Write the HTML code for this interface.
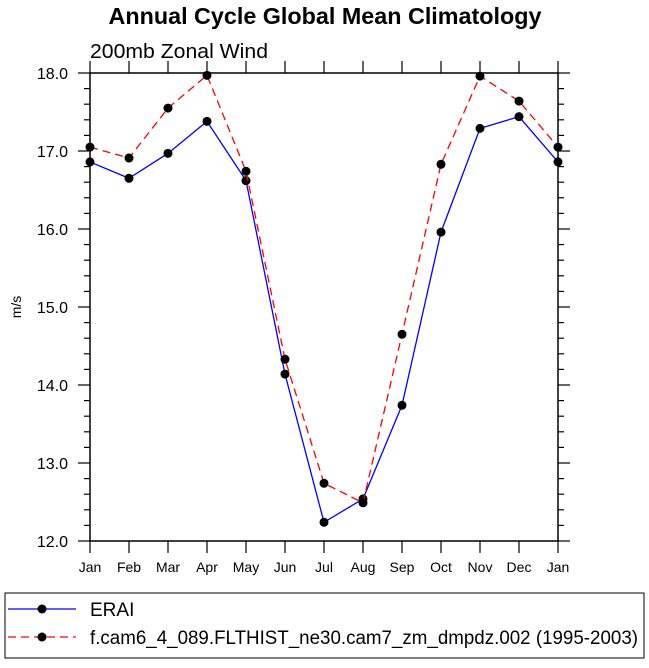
<!DOCTYPE html>
<html><head><meta charset="utf-8"><style>
body{margin:0;background:#fff;}
svg text{font-family:"Liberation Sans",sans-serif;}
</style></head><body>
<svg id="chart" width="649" height="663" xmlns="http://www.w3.org/2000/svg">
<text x="325" y="24" text-anchor="middle" font-size="23" font-weight="bold" textLength="433" lengthAdjust="spacingAndGlyphs">Annual Cycle Global Mean Climatology</text>
<text x="90" y="58" font-size="20" textLength="178" lengthAdjust="spacingAndGlyphs">200mb Zonal Wind</text>
<text transform="translate(21,307) rotate(-90)" text-anchor="middle" font-size="14">m/s</text>
<g id="axes"></g>
<g id="series"></g>
<rect x="5" y="593" width="639" height="65" fill="none" stroke="#000" stroke-width="1"/>
<line x1="8" y1="609" x2="76" y2="609" stroke="#0000ff" stroke-width="1.3"/>
<circle cx="42" cy="609" r="4.5" fill="#000"/>
<text x="90" y="616" font-size="19">ERAI</text>
<line x1="8" y1="637" x2="76" y2="637" stroke="#ff0000" stroke-width="1.3" stroke-dasharray="8,5"/>
<circle cx="42" cy="637" r="4.5" fill="#000"/>
<text x="90" y="644" font-size="19" textLength="548" lengthAdjust="spacingAndGlyphs">f.cam6_4_089.FLTHIST_ne30.cam7_zm_dmpdz.002 (1995-2003)</text>
</svg>
<script>
const months = ["Jan","Feb","Mar","Apr","May","Jun","Jul","Aug","Sep","Oct","Nov","Dec","Jan"];
const eraiValues = [16.86,16.65,16.97,17.38,16.62,14.14,12.24,12.54,13.74,15.96,17.29,17.44,16.86];
const modelValues = [17.05,16.91,17.55,17.97,16.74,14.33,12.74,12.49,14.65,16.83,17.96,17.64,17.05];
const yTickLabels = ["12.0","13.0","14.0","15.0","16.0","17.0","18.0"];

const NS = "http://www.w3.org/2000/svg";
const X0 = 90, X1 = 558, Y0 = 73, Y1 = 541, YMIN = 12, YMAX = 18;
function xs(i){ return X0 + (X1 - X0) * i / (months.length - 1); }
function ys(v){ return Y1 - (v - YMIN) / (YMAX - YMIN) * (Y1 - Y0); }
function mk(tag, attrs, parent){ const e = document.createElementNS(NS, tag); for (const k in attrs) e.setAttribute(k, attrs[k]); parent.appendChild(e); return e; }

const axes = document.getElementById("axes");
const frame = mk("rect", {x:X0, y:Y0, width:X1-X0, height:Y1-Y0, fill:"none", stroke:"#000", "stroke-width":1.5}, axes);



months.forEach((m, i) => {
  const x = xs(i);
  mk("line", {x1:x, y1:Y1, x2:x, y2:Y1+12, stroke:"#000", "stroke-width":1.2}, axes);
  mk("line", {x1:x, y1:Y0, x2:x, y2:Y0-12, stroke:"#000", "stroke-width":1.2}, axes);
  const t = mk("text", {x:x, y:Y1+31, "text-anchor":"middle", "font-size":14}, axes);
  t.textContent = m;
  
  
});

for (let v = YMIN; v <= YMAX + 1e-6; v += 0.2) {
  const y = ys(v);
  const major = Math.abs(v - Math.round(v)) < 1e-6;
  const len = major ? 12 : 6;
  mk("line", {x1:X0, y1:y, x2:X0-len, y2:y, stroke:"#000", "stroke-width":1.2}, axes);
  mk("line", {x1:X1, y1:y, x2:X1+len, y2:y, stroke:"#000", "stroke-width":1.2}, axes);
}
yTickLabels.forEach(lbl => {
  const t = mk("text", {x:68, y:ys(parseFloat(lbl))+6, "text-anchor":"end", "font-size":16}, axes);
  t.textContent = lbl;
  
  
});

const series = document.getElementById("series");
function drawSeries(vals, color, dash, name){
  const pts = vals.map((v, i) => xs(i) + "," + ys(v)).join(" ");
  const pl = mk("polyline", {points:pts, fill:"none", stroke:color, "stroke-width":1.3}, series);
  if (dash) pl.setAttribute("stroke-dasharray", dash);
  
  
  vals.forEach((v, i) => {
    const c = mk("circle", {cx:xs(i), cy:ys(v), r:4.5, fill:"#000"}, series);
    
    
  });
}
drawSeries(eraiValues, "#0000ff", null, "erai");
drawSeries(modelValues, "#ff0000", "8,5", "model");
</script>
</body></html>
